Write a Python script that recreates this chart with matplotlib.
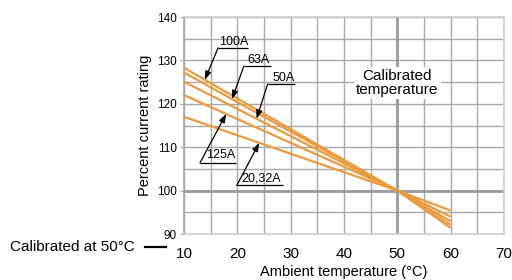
import matplotlib
matplotlib.use('Agg')
import matplotlib.pyplot as plt
from matplotlib.lines import Line2D
import numpy as np

plt.rcParams['font.family'] = ['Liberation Sans', 'DejaVu Sans']

# rating curves: values at 10, 50 and 60 degC
temps = [10, 50, 60]
curve_100a = [128.3, 100, 91.4]
curve_63a = [127.2, 100, 92.1]
curve_50a = [125.1, 100, 92.9]
curve_125a = [122.0, 100, 94.0]
curve_2032a = [117.0, 100, 95.4]
curves = [curve_100a, curve_63a, curve_50a, curve_125a, curve_2032a]
labels = ['100A', '63A', '50A', '125A', '20,32A']
# x where each arrow touches its curve
arrow_x = [13.9, 19.0, 23.6, 17.9, 24.1]

orange = '#EC9A3E'

fig = plt.figure(figsize=(5.12, 2.8), dpi=100)
ax = fig.add_axes([184 / 512, 1 - 234 / 280, 320 / 512, 217 / 280])

ax.set_xlim(10, 70)
ax.set_ylim(90, 140)
ax.set_xticks(np.arange(10, 71, 10))
ax.set_yticks(np.arange(90, 141, 10))
ax.set_xticks(np.arange(10, 71, 5), minor=True)
ax.set_yticks(np.arange(90, 141, 5), minor=True)
ax.grid(True, which='both', color='#a8a8a8', lw=1.0)
ax.axvline(50, color='#9a9a9a', lw=2.0, zorder=1.5)
ax.axhline(100, color='#9a9a9a', lw=2.0, zorder=1.5)
ax.set_axisbelow(True)
for s in ax.spines.values():
    s.set_color('#cfcfcf')
    s.set_linewidth(1.2)
ax.spines['left'].set_color('#a8a8a8')

ax.tick_params(axis='y', which='major', labelsize=8.5, length=3, color='#a8a8a8', pad=2)
ax.tick_params(axis='y', which='minor', length=0)
ax.tick_params(axis='x', which='both', length=0, labelsize=11, pad=9)

for c in curves:
    ax.plot(temps, c, color=orange, lw=1.6, solid_capstyle='butt', zorder=3)

# label text positions (text centre) and underline spans (x0, x1, y)
text_pos = [(19.3, 134.2), (23.9, 130.2), (28.6, 126.0), (16.8, 108.1), (24.4, 102.8)]
under = [(16.4, 22.0, 132.9), (21.2, 26.4, 128.6), (25.7, 30.8, 124.6),
         (13.0, 19.8, 106.4), (19.9, 28.6, 101.2)]
for lab, c, ax_x, tp, u in zip(labels, curves, arrow_x, text_pos, under):
    tip_y = np.interp(ax_x, temps, c)
    ax.plot([u[0], u[1]], [u[2], u[2]], color='black', lw=0.9, zorder=4,
            solid_capstyle='butt')
    ax.annotate('', xy=(ax_x, tip_y), xytext=(u[0], u[2]),
                arrowprops=dict(arrowstyle='-|>,head_length=0.5,head_width=0.18',
                                color='black', lw=0.9, shrinkA=0, shrinkB=0), zorder=4)
    ax.text(tp[0], tp[1], lab, ha='center', va='center', fontsize=9, zorder=4)

ax.text(50, 124.8, 'Calibrated\ntemperature', ha='center', va='center', fontsize=11,
        linespacing=1.05, zorder=4,
        bbox=dict(facecolor='white', edgecolor='none', pad=1.5))

ax.set_xlabel('Ambient temperature (°C)', fontsize=10.5, labelpad=3)
ax.set_ylabel('Percent current rating', fontsize=10.5, labelpad=4)

fig.text(135 / 512, 1 - 247 / 280, 'Calibrated at 50°C', ha='right', va='center', fontsize=11)
fig.add_artist(Line2D([145 / 512, 166 / 512], [1 - 246.5 / 280, 1 - 246.5 / 280],
                      color='black', lw=1.6))

fig.savefig('out.png', dpi=100)
